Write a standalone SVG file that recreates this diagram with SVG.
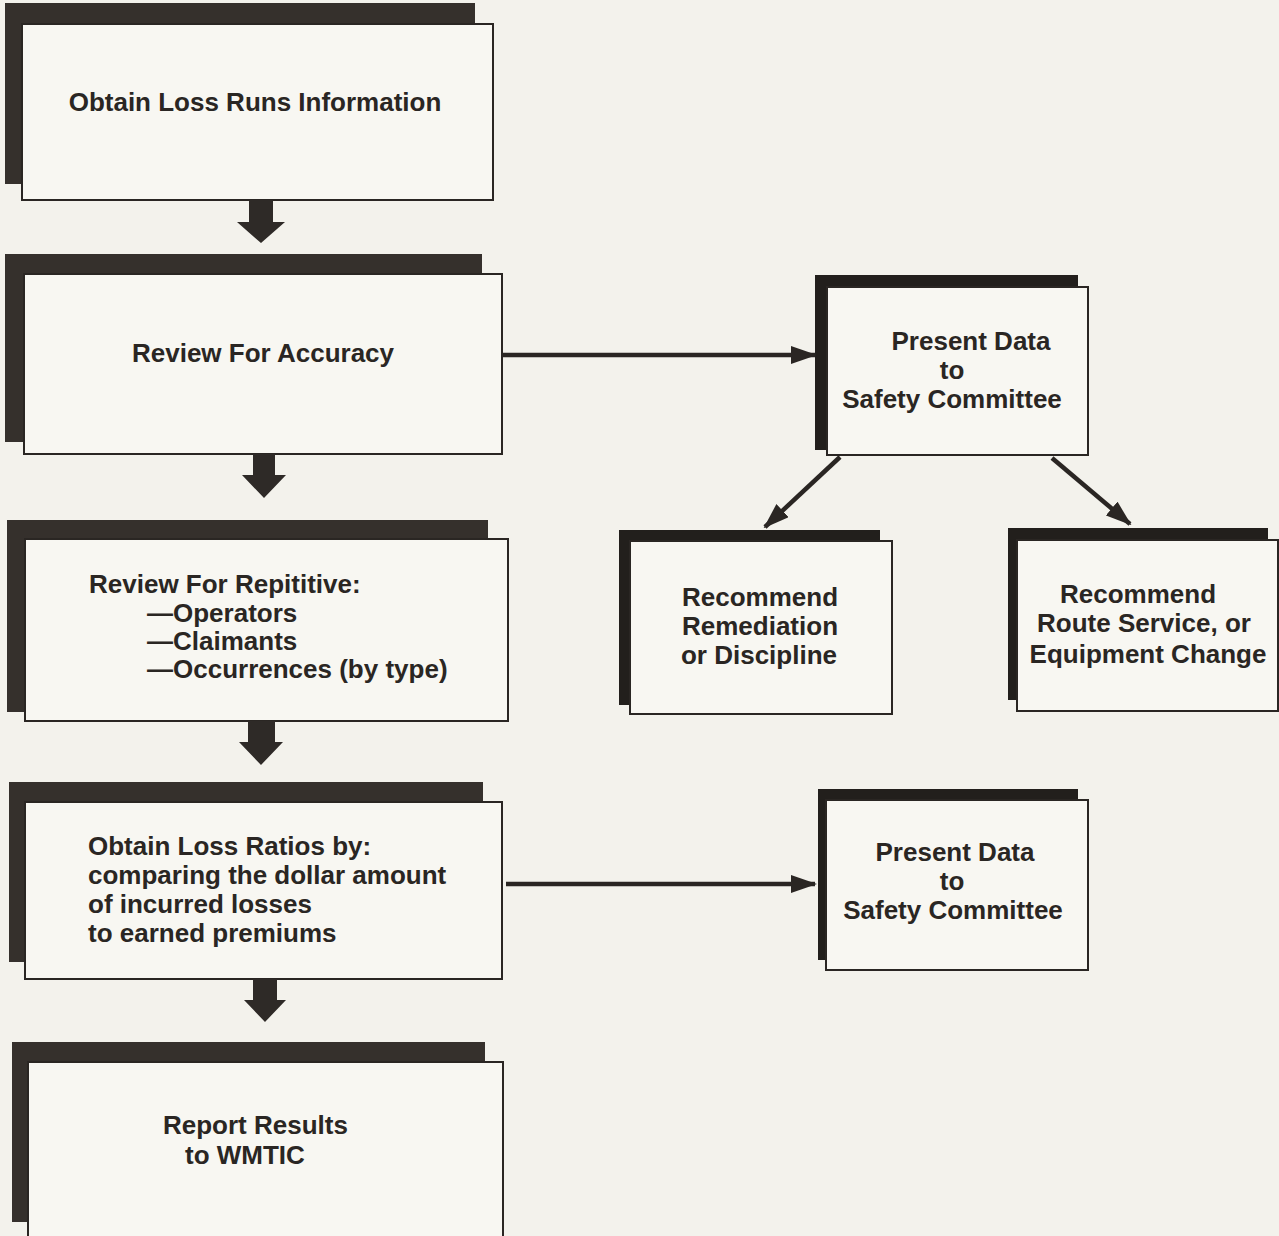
<svg xmlns="http://www.w3.org/2000/svg" width="1279" height="1236" viewBox="0 0 1279 1236">
<defs>
<style>
.bg{fill:#f3f2ec}
.sh{fill:#35302c}
.shd{fill:#221f1c}
.box{fill:#f8f7f2;stroke:#2a2623;stroke-width:2}
.t{font-family:"Liberation Sans",Arial,Helvetica,sans-serif;font-weight:bold;font-size:26px;fill:#2a2623}
.c{text-anchor:middle}
.blk{fill:#2e2a27}
.ln{stroke:#2a2623;stroke-width:4.5;fill:none}
</style>
<marker id="ah" viewBox="0 0 26 18" refX="24" refY="9" markerWidth="26" markerHeight="18" markerUnits="userSpaceOnUse" orient="auto">
<path d="M0,0 L26,9 L0,18 Z" fill="#2a2623"/>
</marker>
</defs>
<rect class="bg" x="0" y="0" width="1279" height="1236"/>

<g id="n1">
<rect class="sh" x="5" y="3" width="470" height="181"/>
<rect class="box" x="22" y="24" width="471" height="176"/>
<text class="t c" x="255" y="111">Obtain Loss Runs Information</text>
</g>

<g id="n2">
<rect class="sh" x="5" y="254" width="477" height="188"/>
<rect class="box" x="24" y="274" width="478" height="180"/>
<text class="t c" x="263" y="362">Review For Accuracy</text>
</g>

<g id="n3">
<rect class="sh" x="7" y="520" width="481" height="192"/>
<rect class="box" x="25" y="539" width="483" height="182"/>
<text class="t" x="89" y="593">Review For Repititive:</text>
<text class="t" x="147" y="622">—Operators</text>
<text class="t" x="147" y="650">—Claimants</text>
<text class="t" x="147" y="678">—Occurrences (by type)</text>
</g>

<g id="n4">
<rect class="sh" x="9" y="782" width="474" height="180"/>
<rect class="box" x="25" y="802" width="477" height="177"/>
<text class="t" x="88" y="855">Obtain Loss Ratios by:</text>
<text class="t" x="88" y="884">comparing the dollar amount</text>
<text class="t" x="88" y="913">of incurred losses</text>
<text class="t" x="88" y="942">to earned premiums</text>
</g>

<g id="n5">
<rect class="sh" x="12" y="1042" width="473" height="180"/>
<rect class="box" x="28" y="1062" width="475" height="190"/>
<text class="t" x="163" y="1134">Report Results</text>
<text class="t" x="185" y="1164">to WMTIC</text>
</g>

<g id="n6">
<rect class="shd" x="815" y="275" width="263" height="175"/>
<rect class="box" x="827" y="287" width="261" height="168"/>
<text class="t c" x="971" y="350">Present Data</text>
<text class="t c" x="952" y="379">to</text>
<text class="t c" x="952" y="408">Safety Committee</text>
</g>

<g id="n7">
<rect class="shd" x="619" y="530" width="261" height="175"/>
<rect class="box" x="630" y="541" width="262" height="173"/>
<text class="t c" x="760" y="606">Recommend</text>
<text class="t c" x="760" y="635">Remediation</text>
<text class="t c" x="759" y="664">or Discipline</text>
</g>

<g id="n8">
<rect class="shd" x="1008" y="528" width="260" height="172"/>
<rect class="box" x="1017" y="540" width="261" height="171"/>
<text class="t c" x="1138" y="603">Recommend</text>
<text class="t c" x="1144" y="632">Route Service, or</text>
<text class="t c" x="1148" y="663">Equipment Change</text>
</g>

<g id="n9">
<rect class="shd" x="818" y="789" width="260" height="171"/>
<rect class="box" x="826" y="800" width="262" height="170"/>
<text class="t c" x="955" y="861">Present Data</text>
<text class="t c" x="952" y="890">to</text>
<text class="t c" x="953" y="919">Safety Committee</text>
</g>

<g id="connectors">
<path class="blk" d="M249,200 H273 V222 H285 L261,243 L237,222 H249 Z"/>
<path class="blk" d="M253,454 H275 V475 H286 L264,498 L242,475 H253 Z"/>
<path class="blk" d="M248,721 H275 V742 H283 L261,765 L239,742 H248 Z"/>
<path class="blk" d="M253,979 H277 V1000 H286 L265,1022 L244,1000 H253 Z"/>
<line class="ln" x1="502" y1="355" x2="815" y2="355" marker-end="url(#ah)"/>
<line class="ln" x1="506" y1="884" x2="815" y2="884" marker-end="url(#ah)"/>
<line class="ln" x1="840" y1="457" x2="765" y2="527" marker-end="url(#ah)"/>
<line class="ln" x1="1052" y1="458" x2="1130" y2="524" marker-end="url(#ah)"/>
</g>
</svg>
